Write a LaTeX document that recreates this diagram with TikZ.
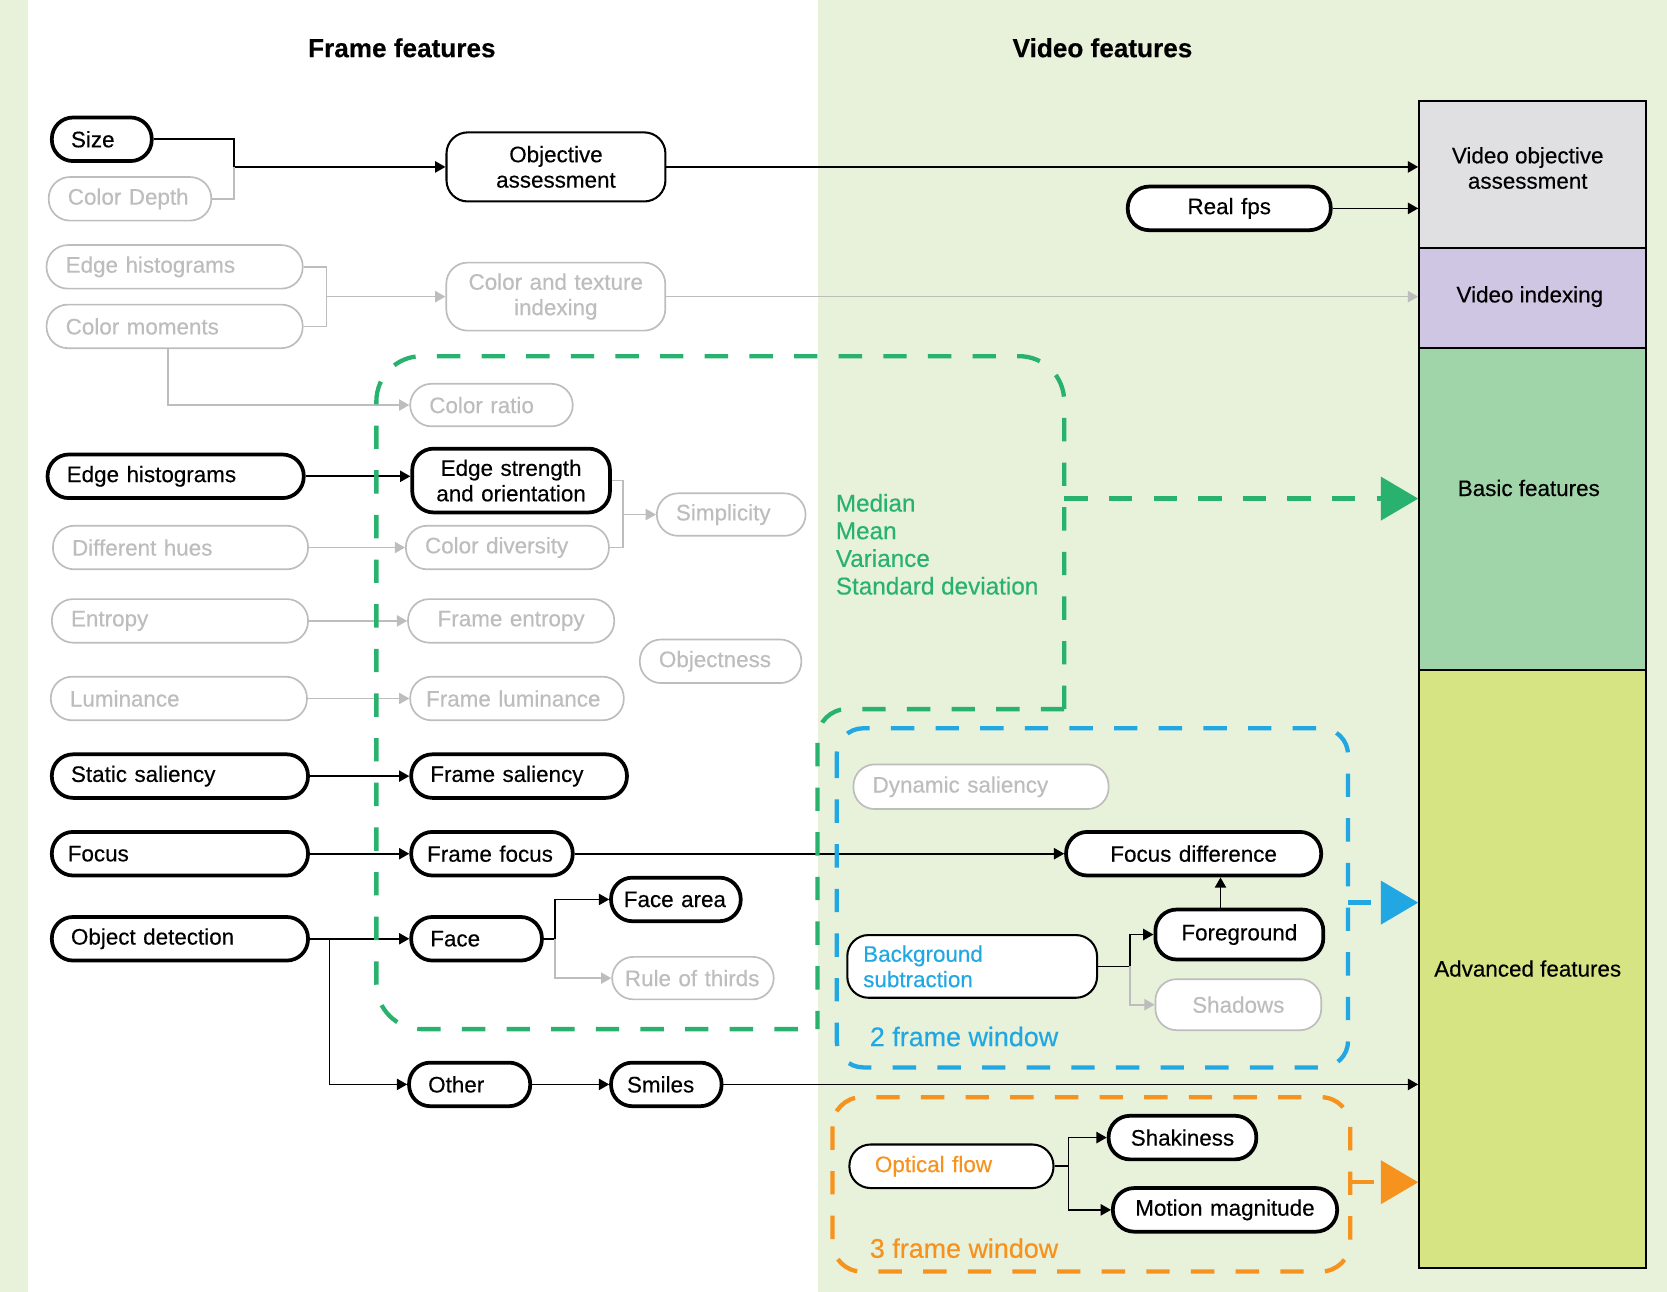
\documentclass[tikz,border=0pt]{standalone}
\usepackage{fontspec}
\setmainfont{Liberation Sans}[FakeBold=0.35]
\usetikzlibrary{arrows.meta}

\definecolor{bgreen}{RGB}{232,241,218}
\definecolor{fgray}{RGB}{189,189,189}
\definecolor{dgreen}{RGB}{40,178,110}
\definecolor{dblue}{RGB}{33,168,226}
\definecolor{dorange}{RGB}{246,146,30}
\definecolor{objgray}{RGB}{224,224,226}
\definecolor{idxlav}{RGB}{206,198,227}
\definecolor{basgreen}{RGB}{160,212,169}
\definecolor{advyel}{RGB}{214,228,132}

\tikzset{
  pill/.style={rectangle, rounded corners=0.4cm, anchor=west, align=left,
    inner xsep=0.36cm, inner ysep=0pt, minimum height=0.82cm, fill=white,
    font=\fontsize{12}{13.6}\selectfont},
  bold/.style={pill, draw=black, line width=2pt},
  mid/.style={pill, draw=black, line width=1.1pt},
  faint/.style={pill, draw=fgray, line width=0.9pt, text=fgray},
  colbox/.style={rectangle, draw=black, line width=1.2pt, minimum width=4.26cm, inner sep=0pt},
  collab/.style={align=center, font=\fontsize{12}{13.6}\selectfont},
  title/.style={font=\fontsize{14}{16}\selectfont\bfseries},
  blk/.style={line width=0.9pt, -{Triangle[length=5.5pt,width=6pt]}},
  gln/.style={line width=0.9pt, draw=fgray},
  garr/.style={gln, -{Triangle[length=5.5pt,width=6pt]}},
  zone/.style={line width=2.3pt, dash pattern=on 0.44cm off 0.4cm},
  bighead/.style={-{Triangle[length=20pt,width=23pt]}}
}

\begin{document}
\begin{tikzpicture}[x=0.02cm, y=-0.02cm]

\useasboundingbox (0,0) rectangle (1568,1215);
\fill[bgreen] (0,0) rectangle (26,1215);
\fill[bgreen] (769,0) rectangle (1568,1215);

\node[title] (ftitle) at (378,45) {Frame features};
\node[title] (vtitle) at (1037,45) {Video features};

% Result column
\node[colbox, fill=objgray, minimum height=2.76cm] (vobj) at (1441.5,164) {};
\node[colbox, fill=idxlav, minimum height=1.88cm] (vidx) at (1441.5,280) {};
\node[colbox, fill=basgreen, minimum height=6.06cm] (basic) at (1441.5,478.5) {};
\node[colbox, fill=advyel, minimum height=11.26cm] (adv) at (1441.5,911.5) {};
\node[collab] (vobjlab) at (1437,158) {Video objective\\assessment};
\node[collab] (vidxlab) at (1439,279) {Video indexing};
\node[collab] (basiclab) at (1438,459) {Basic features};
\node[collab] (advlab) at (1437,911) {Advanced features};

% Frame features
\node[bold, text width=1.16cm] (size) at (47,131) {Size};
\node[faint, text width=2.34cm] (cdepth) at (45,187) {Color Depth};
\node[faint, text width=4.1cm] (ehistg) at (43,251) {Edge histograms};
\node[faint, text width=4.1cm] (cmom) at (43,307) {Color moments};
\node[bold, text width=4.1cm] (ehist) at (43,448) {Edge histograms};
\node[faint, text width=4.08cm] (hues) at (49,515) {Different hues};
\node[faint, text width=4.1cm] (entropy) at (48,584) {Entropy};
\node[faint, text width=4.1cm] (lum) at (47,657) {Luminance};
\node[bold, text width=4.1cm] (static) at (47,730) {Static saliency};
\node[bold, inner xsep=0.3cm, text width=4.22cm] (focus) at (47,803) {Focus};
\node[bold, text width=4.1cm] (objdet) at (47,883) {Object detection};

\node[mid, text width=3.4cm, align=center, minimum height=1.3cm] (objass) at (419,157) {Objective\\assessment};
\node[faint, text width=3.4cm, align=center, minimum height=1.28cm] (ctex) at (419,279) {Color and texture\\indexing};
\node[faint, text width=2.34cm, minimum height=0.8cm] (cratio) at (385,381) {Color ratio};
\node[bold, text width=3.0cm, align=center, minimum height=1.2cm] (estr) at (386,452) {Edge strength\\and orientation};
\node[faint, text width=3.1cm] (cdiv) at (381,515) {Color diversity};
\node[faint, text width=2.08cm, minimum height=0.8cm] (simpl) at (617,484) {Simplicity};
\node[faint, text width=3.16cm, align=center] (fentropy) at (383,584) {Frame entropy};
\node[faint, text width=2.32cm, minimum height=0.82cm] (objness) at (601,622) {Objectness};
\node[faint, inner xsep=0.3cm, text width=3.42cm] (flum) at (385,657) {Frame luminance};
\node[bold, text width=3.34cm] (fsal) at (385,730) {Frame saliency};
\node[bold, inner xsep=0.3cm, text width=2.44cm] (ffocus) at (385,803) {Frame focus};
\node[bold, inner xsep=0.24cm, text width=1.96cm] (farea) at (573,846) {Face area};
\node[bold, text width=1.74cm] (face) at (385,883) {Face};
\node[faint, inner xsep=0.24cm, text width=2.56cm, minimum height=0.8cm] (thirds) at (575,920) {Rule of thirds};
\node[bold, text width=1.56cm] (other) at (383,1020) {Other};
\node[bold, inner xsep=0.3cm, text width=1.48cm] (smiles) at (573,1020) {Smiles};

% Video features
\node[bold, text width=3.1cm, align=center] (realfps) at (1059,196) {Real fps};
\node[faint, text width=4.08cm, minimum height=0.84cm] (dynsal) at (802,740) {Dynamic saliency};
\node[bold, text width=4.08cm, align=center] (fdiff) at (1001,803) {Focus difference};
\node[bold, text width=2.44cm, align=center, minimum height=0.94cm] (fground) at (1085,879) {Foreground};
\node[mid, inner xsep=0.3cm, text width=4.1cm, minimum height=1.18cm, text=dblue] (bgsub) at (796,909) {Background\\subtraction};
\node[faint, text width=2.4cm, align=center, minimum height=0.96cm] (shadows) at (1086,945) {Shadows};
\node[bold, text width=2.06cm, align=center] (shaky) at (1041,1070) {Shakiness};
\node[mid, inner xsep=0.48cm, text width=2.88cm, text=dorange] (oflow) at (798,1097) {Optical flow};
\node[bold, text width=3.5cm, align=center] (motion) at (1045,1138) {Motion magnitude};

\node[anchor=west, align=left, text=dgreen, font=\fontsize{13}{14.8}\selectfont] (stats) at (780,512) {Median\\Mean\\Variance\\Standard deviation};
\node[anchor=west, text=dblue, font=\fontsize{14.4}{16}\selectfont] (win2) at (812,975) {2 frame window};
\node[anchor=west, text=dorange, font=\fontsize{14.4}{16}\selectfont] (win3) at (812,1174) {3 frame window};

% connectors
\coordinate (jsize) at (220,157);
\draw[blk] (size.east) -| (jsize) -- (objass.west);
\draw[gln] (cdepth.east) -| (jsize);
\draw[blk] (objass.east) -- (objass.east -| vobj.west);
\draw[blk] (realfps.east) -- (realfps.east -| vobj.west);

\coordinate (jidx) at (307,279);
\draw[gln] (ehistg.east) -| (jidx);
\draw[gln] (cmom.east) -| (jidx);
\draw[garr] (jidx) -- (ctex.west);
\draw[garr] (ctex.east) -- (ctex.east -| vidx.west);
\draw[garr] (cmom.south -| 158,0) |- (cratio.west);

\draw[blk] (ehist.east) -- (ehist.east -| estr.west);
\coordinate (jsimp) at (586,484);
\draw[gln] (estr.east) -| (jsimp);
\draw[gln] (cdiv.east) -| (jsimp);
\draw[garr] (jsimp) -- (simpl.west);
\draw[garr] (hues.east) -- (cdiv.west);
\draw[garr] (entropy.east) -- (fentropy.west);
\draw[garr] (lum.east) -- (flum.west);
\draw[blk] (static.east) -- (fsal.west);
\draw[blk] (focus.east) -- (ffocus.west);
\draw[blk] (ffocus.east) -- (fdiff.west);

\draw[blk] (objdet.east) -- (face.west);
\draw[blk] (objdet.east -| 310,0) |- (other.west);
\coordinate (jface) at (522,883);
\draw[blk] (face.east) -- (jface) |- (farea.west);
\draw[garr] (jface) |- (thirds.west);
\draw[blk] (other.east) -- (smiles.west);
\draw[blk] (smiles.east) -- (smiles.east -| adv.west);

\draw[blk] (fground.north -| 1148,0) -- (fdiff.south -| 1148,0);
\coordinate (jbg) at (1063,909);
\draw[blk] (bgsub.east) -- (jbg) |- (fground.west);
\draw[garr] (jbg) |- (shadows.west);
\coordinate (jof) at (1005,1097);
\draw[blk] (oflow.east) -- (jof) |- (shaky.west);
\draw[blk] (jof) |- (motion.west);

% windows
\draw[zone, dgreen, rounded corners=0.85cm] (1001,667) -- (1001,335) -- (354,335) -- (354,968) -- (769,968);
\draw[zone, dgreen, rounded corners=0.55cm] (1001,667) -- (769,667) -- (769,968);
\coordinate (gout) at (1001,469);
\draw[zone, dgreen, bighead] (gout) -- (gout -| basic.west);

\draw[zone, dblue, rounded corners=0.5cm] (787,685) rectangle (1268,1004);
\coordinate (bout) at (1268,849);
\draw[zone, dblue, bighead] (bout) -- (bout -| adv.west);

\draw[zone, dorange, rounded corners=0.55cm] (783,1032) rectangle (1270,1196);
\coordinate (oout) at (1270,1112);
\draw[zone, dorange, bighead] (oout) -- (oout -| adv.west);

\end{tikzpicture}
\end{document}
